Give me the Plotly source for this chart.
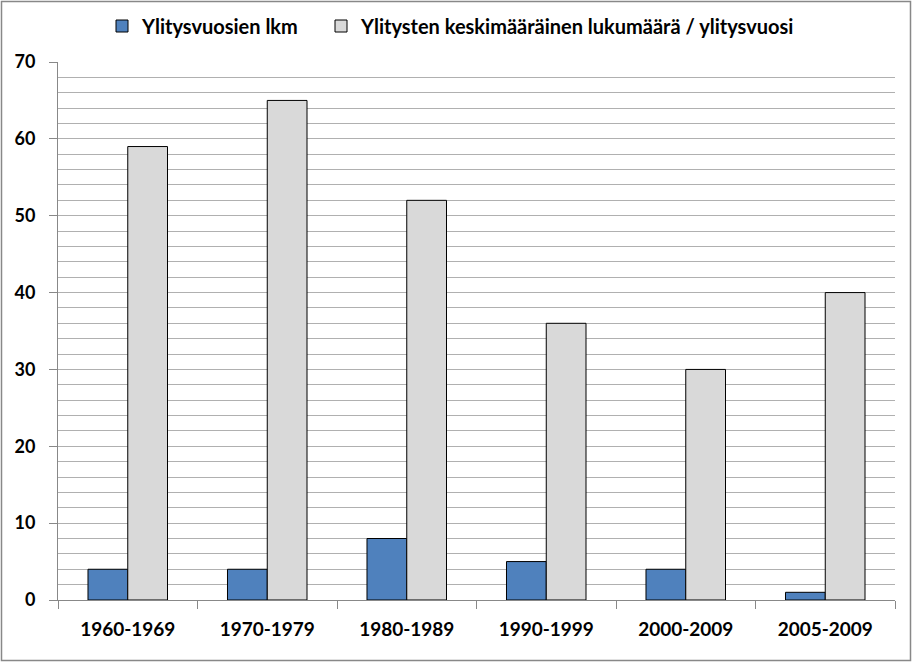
import plotly.graph_objects as go

categories = ["1960-1969", "1970-1979", "1980-1989", "1990-1999", "2000-2009", "2005-2009"]
series1_name = "Ylitysvuosien lkm"
series1 = [4, 4, 8, 5, 4, 1]
series2_name = "Ylitysten keskimääräinen lukumäärä / ylitysvuosi"
series2 = [59, 65, 52, 36, 30, 40]
ytick_vals = [0, 10, 20, 30, 40, 50, 60, 70]

W, H = 912, 663
ml, mr, mt, mb = 58, 17, 62, 63
pw, ph = W - ml - mr, H - mt - mb

font = "Lato, 'Open Sans', sans-serif"

fig = go.Figure()
fig.add_trace(go.Bar(x=categories, y=series1, name=series1_name, legend="legend",
                     marker=dict(color="#4f81bd", line=dict(color="#000000", width=1))))
fig.add_trace(go.Bar(x=categories, y=series2, name=series2_name, legend="legend2",
                     marker=dict(color="#d9d9d9", line=dict(color="#000000", width=1))))

def px(x):
    return (x - ml) / pw

def py(y):
    return 1 - (y - mt) / ph

fig.add_shape(type="rect", xref="paper", yref="paper",
              x0=px(1.5), x1=px(910.5), y0=py(1.5), y1=py(660.5),
              line=dict(color="#888888", width=1.5), layer="below")

leg_font = dict(size=20, family=font, weight="bold")
fig.update_layout(
    width=W, height=H,
    margin=dict(l=ml, r=mr, t=mt, b=mb, autoexpand=False),
    paper_bgcolor="white", plot_bgcolor="white",
    barmode="group", bargap=0.43, bargroupgap=0,
    font=dict(family=font, color="#000000"),
    legend=dict(orientation="h", x=px(102), xanchor="left", y=py(26), yanchor="middle",
                font=leg_font, itemwidth=30, bgcolor="rgba(0,0,0,0)"),
    legend2=dict(orientation="h", x=px(321), xanchor="left", y=py(26), yanchor="middle",
                 font=leg_font, itemwidth=30, bgcolor="rgba(0,0,0,0)"),
    showlegend=True,
)
fig.update_xaxes(
    type="category", showline=True, linecolor="#888888", linewidth=1,
    ticks="outside", tickson="boundaries", ticklen=8, tickcolor="#888888",
    tickfont=dict(size=19, family=font, weight="bold"),
    ticklabelstandoff=12, showgrid=False,
)
fig.update_yaxes(
    range=[0, 70], tickvals=ytick_vals, showline=True, linecolor="#888888", linewidth=1,
    ticks="outside", ticklen=8, tickcolor="#888888",
    tickfont=dict(size=18, family=font, weight="bold"),
    ticklabelstandoff=10,
    showgrid=True, gridcolor="#b0b0b0", gridwidth=1, zeroline=False,
    minor=dict(dtick=2, showgrid=True, gridcolor="#b0b0b0", gridwidth=1, ticks=""),
)

fig.write_html("out.html")
